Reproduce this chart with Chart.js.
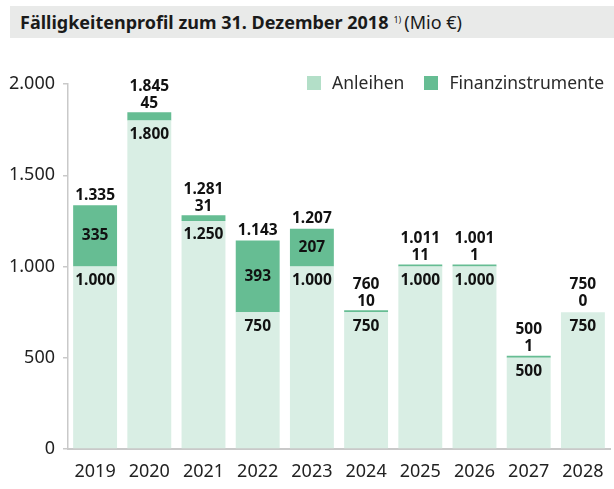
<!DOCTYPE html>
<html>
<head>
<meta charset="utf-8">
<script src="https://cdn.jsdelivr.net/npm/chart.js@4"></script>
<style>
  html, body { margin: 0; padding: 0; background: #fff; }
  body { width: 614px; height: 489px; position: relative; overflow: hidden; font-family: "Noto Sans", sans-serif; }
  #title {
    position: absolute; left: 10px; top: 6px; width: 604px; height: 32px;
    background: #e9eae9; color: #1a1a1a; font-size: 18px; line-height: 32px;
    box-sizing: border-box; padding-left: 10px; white-space: nowrap;
  }
  #title b { font-weight: 700; }
  #title sup { font-size: 9px; vertical-align: 6px; line-height: 0; margin-left: 5px; margin-right: 3px; }
  #legend { position: absolute; top: 70px; right: 10px; font-size: 17.5px; color: #2a2a2a; }
  #legend span.item { margin-left: 20px; }
  #legend i { display: inline-block; width: 14px; height: 14px; vertical-align: -1px; margin-right: 11px; }
  #wrap { position: absolute; left: 0; top: 0; width: 614px; height: 489px; }
</style>
</head>
<body>
<div id="wrap"><canvas id="chart"></canvas></div>
<div id="title"><b>Fälligkeitenprofil zum 31. Dezember 2018</b><sup>1)</sup>(Mio €)</div>
<div id="legend"></div>
<script>
// --- Data ---
const years = ['2019', '2020', '2021', '2022', '2023', '2024', '2025', '2026', '2027', '2028'];
const anleihen = [1000, 1800, 1250, 750, 1000, 750, 1000, 1000, 500, 750];
const finanzinstrumente = [335, 45, 31, 393, 207, 10, 11, 1, 1, 0];
const totals = [1335, 1845, 1281, 1143, 1207, 760, 1011, 1001, 500, 750];
const yTicks = [0, 500, 1000, 1500, 2000];

const lightColor = '#d9eee4';
const darkColor = '#66bd93';
const legendLight = '#b3dfc8';

const fmt = v => v.toLocaleString('de-DE');

// --- HTML legend ---
document.getElementById('legend').innerHTML =
    `<span class="item"><i style="background:${legendLight}"></i>Anleihen</span>` +
    `<span class="item"><i style="background:${darkColor}"></i>Finanzinstrumente</span>`;

// --- Value labels plugin ---
const valueLabels = {
    id: 'valueLabels',
    afterDatasetsDraw(chart) {
        const ctx = chart.ctx;
        const y = chart.scales.y;
        const metaA = chart.getDatasetMeta(0);
        ctx.save();
        ctx.font = 'bold 15.5px "Noto Sans", sans-serif';
        ctx.fillStyle = '#111';
        ctx.textAlign = 'center';
        ctx.textBaseline = 'middle';
        years.forEach((yr, i) => {
            const x = metaA.data[i].x;
            const a = anleihen[i], f = finanzinstrumente[i];
            const topA = y.getPixelForValue(a);
            const topF = y.getPixelForValue(a + f);
            ctx.fillText(fmt(a), x, topA + 14);
            if (topA - topF > 25) {
                ctx.fillText(fmt(f), x, (topA + topF) / 2);
                ctx.fillText(fmt(totals[i]), x, topF - 10);
            } else {
                const top = Math.min(topF, topA - 2);
                ctx.fillText(fmt(f), x, top - 9);
                ctx.fillText(fmt(totals[i]), x, top - 26);
            }
        });
        ctx.restore();
    }
};

new Chart(document.getElementById('chart'), {
    type: 'bar',
    data: {
        labels: years,
        datasets: [
            { label: 'Anleihen', data: anleihen, backgroundColor: lightColor },
            // zero values left out so the min bar length does not draw a sliver for them
            { label: 'Finanzinstrumente', data: finanzinstrumente.map(v => v || null), backgroundColor: darkColor, minBarLength: 2 }
        ]
    },
    options: {
        responsive: true, maintainAspectRatio: false, animation: false,
        categoryPercentage: 0.81, barPercentage: 1,
        layout: { padding: { top: 84, right: 4, left: 0, bottom: 0 } },
        plugins: { legend: { display: false }, tooltip: { enabled: false } },
        scales: {
            x: {
                stacked: true,
                grid: { display: false },
                border: { color: '#c9c9c9', width: 2 },
                ticks: { color: '#222', font: { size: 18, family: '"Noto Sans", sans-serif' }, padding: 4, maxRotation: 0 },
                afterFit: s => { s.height = 40; }
            },
            y: {
                stacked: true, min: 0, max: 2000,
                afterBuildTicks: s => { s.ticks = yTicks.map(v => ({ value: v })); },
                grid: { drawOnChartArea: false, tickLength: 5, color: '#c9c9c9', lineWidth: 1.5 },
                border: { color: '#c9c9c9', width: 1.5 },
                ticks: { color: '#222', font: { size: 18, family: '"Noto Sans", sans-serif' }, padding: 8, callback: v => fmt(v) },
                afterFit: s => { s.width = 68; }
            }
        }
    },
    plugins: [valueLabels]
});
</script>
</body>
</html>
